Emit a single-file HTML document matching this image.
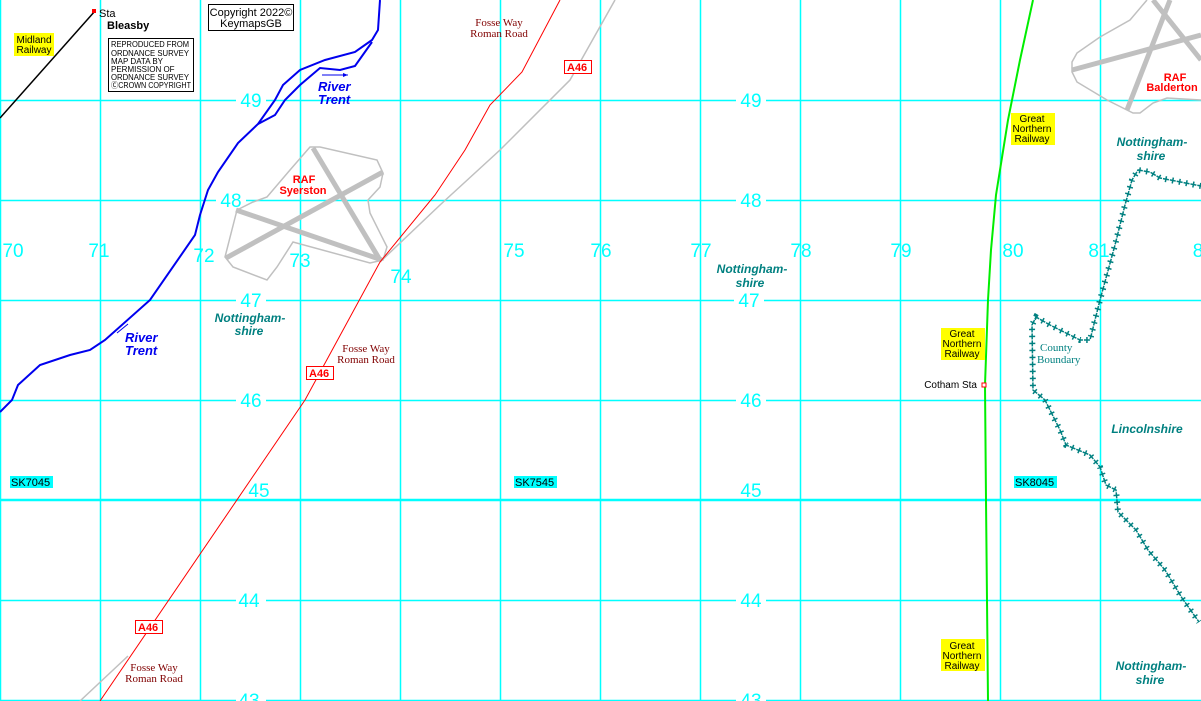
<!DOCTYPE html>
<html><head><meta charset="utf-8"><style>
html,body{margin:0;padding:0;background:#fff;}
svg{display:block;font-family:"Liberation Sans",sans-serif;}
.g{fill:#00ffff;font-size:19px;}
</style></head><body>
<svg width="1201" height="701" viewBox="0 0 1201 701" xmlns="http://www.w3.org/2000/svg">
<rect width="1201" height="701" fill="#fff"/>
<g stroke="#00ffff" stroke-width="1.5">
<line x1="0.5" y1="0" x2="0.5" y2="701"/>
<line x1="100.5" y1="0" x2="100.5" y2="701"/>
<line x1="200.5" y1="0" x2="200.5" y2="701"/>
<line x1="300.5" y1="0" x2="300.5" y2="701"/>
<line x1="400.5" y1="0" x2="400.5" y2="701"/>
<line x1="500.5" y1="0" x2="500.5" y2="701"/>
<line x1="600.5" y1="0" x2="600.5" y2="701"/>
<line x1="700.5" y1="0" x2="700.5" y2="701"/>
<line x1="800.5" y1="0" x2="800.5" y2="701"/>
<line x1="900.5" y1="0" x2="900.5" y2="701"/>
<line x1="1000.5" y1="0" x2="1000.5" y2="701"/>
<line x1="1100.5" y1="0" x2="1100.5" y2="701"/>
<line x1="0" y1="100.5" x2="1201" y2="100.5"/>
<line x1="0" y1="200.5" x2="1201" y2="200.5"/>
<line x1="0" y1="300.5" x2="1201" y2="300.5"/>
<line x1="0" y1="400.5" x2="1201" y2="400.5"/>
<line x1="0" y1="500" x2="1201" y2="500" stroke-width="2.5"/>
<line x1="0" y1="600.5" x2="1201" y2="600.5"/>
<line x1="0" y1="700.5" x2="1201" y2="700.5"/>
</g>
<g class="g" text-anchor="middle">
<g fill="#fff"><rect x="236" y="90" width="30" height="20"/><rect x="736" y="90" width="30" height="20"/><rect x="216" y="190" width="30" height="20"/><rect x="736" y="190" width="30" height="20"/><rect x="236" y="290" width="30" height="20"/><rect x="734" y="290" width="30" height="20"/><rect x="236" y="390" width="30" height="20"/><rect x="736" y="390" width="30" height="20"/><rect x="236" y="590" width="30" height="20"/><rect x="736" y="590" width="30" height="20"/><rect x="236" y="690" width="30" height="11"/><rect x="736" y="690" width="30" height="11"/></g>
<text x="251" y="107" class="g">49</text><text x="751" y="107" class="g">49</text>
<text x="231" y="207" class="g">48</text><text x="751" y="207" class="g">48</text>
<text x="251" y="307" class="g">47</text><text x="749" y="307" class="g">47</text>
<text x="251" y="407" class="g">46</text><text x="751" y="407" class="g">46</text>
<text x="259" y="497" class="g">45</text><text x="751" y="497" class="g">45</text>
<text x="249" y="607" class="g">44</text><text x="751" y="607" class="g">44</text>
<text x="249" y="707" class="g">43</text><text x="751" y="707" class="g">43</text>
<text x="13" y="257" class="g">70</text><text x="99" y="257" class="g">71</text>
<text x="204" y="262" class="g">72</text><text x="300" y="267" class="g">73</text>
<text x="401" y="283" class="g">74</text><text x="514" y="257" class="g">75</text>
<text x="601" y="257" class="g">76</text><text x="701" y="257" class="g">77</text>
<text x="801" y="257" class="g">78</text><text x="901" y="257" class="g">79</text>
<text x="1013" y="257" class="g">80</text><text x="1099" y="257" class="g">81</text>
<text x="1198" y="257" class="g">8</text>
</g>
<g font-size="11">
<rect x="10" y="476" width="43" height="12" fill="#00ffff"/><text x="11" y="486">SK7045</text>
<rect x="514" y="476" width="43" height="12" fill="#00ffff"/><text x="515" y="486">SK7545</text>
<rect x="1014" y="476" width="43" height="12" fill="#00ffff"/><text x="1015" y="486">SK8045</text>
</g>
<line x1="0" y1="118" x2="95" y2="11" stroke="#000" stroke-width="1.5"/>
<rect x="92" y="9" width="4" height="4" fill="red"/>
<text x="99" y="17" font-size="11">Sta</text>
<text x="107" y="29" font-size="11" font-weight="bold">Bleasby</text>
<rect x="14" y="33" width="40" height="23" fill="#ff0"/>
<text x="34" y="43" font-size="10" text-anchor="middle">Midland</text>
<text x="34" y="53" font-size="10" text-anchor="middle">Railway</text>
<rect x="108.5" y="38.5" width="85" height="53" fill="#fff" stroke="#000"/>
<g font-size="8"><text x="111" y="47" textLength="78" lengthAdjust="spacingAndGlyphs">REPRODUCED FROM</text><text x="111" y="56" textLength="78" lengthAdjust="spacingAndGlyphs">ORDNANCE SURVEY</text><text x="111" y="64">MAP DATA BY</text><text x="111" y="72">PERMISSION OF</text><text x="111" y="80" textLength="78" lengthAdjust="spacingAndGlyphs">ORDNANCE SURVEY</text><text x="111" y="88" textLength="80" lengthAdjust="spacingAndGlyphs">ⒸCROWN COPYRIGHT</text></g>
<rect x="208.5" y="4.5" width="85" height="26" fill="#fff" stroke="#000"/>
<text x="251" y="16" font-size="11" text-anchor="middle">Copyright 2022©</text>
<text x="251" y="27" font-size="11" text-anchor="middle">KeymapsGB</text>
<g fill="none" stroke="#0000ee" stroke-width="2">
<path d="M0,412 L12,400 L18,385 L40,365 L70,355 L90,350 L105,340 L150,300 L195,235 L200,215 L208,190 L218,172 L238,143 L258,124 L275,100 L283,85 L300,70 L325,60 L355,52 L372,40 L378,30 L380,0"/>
<path d="M258,124 L275,115 L285,100 L300,85 L320,68 L340,70 L355,66 L372,42"/>
</g>
<line x1="322" y1="75" x2="348" y2="75" stroke="#0000ee"/><path d="M348,75 l-5,-2 v4z" fill="#0000ee"/>
<line x1="117" y1="333" x2="128" y2="324" stroke="#0000ee"/>
<g fill="#0000ee" font-size="13" font-weight="bold" font-style="italic">
<text x="318" y="91">River</text><text x="318" y="104">Trent</text>
<text x="125" y="342">River</text><text x="125" y="355">Trent</text>
</g>
<g fill="none" stroke="#c0c0c0" stroke-width="1.5">
<path d="M237,210 L225,257 L233,267 L267,280 L277,267 L293,242 L370,263 L383,260 L387,247 L370,213 L368,200 L380,187 L383,173 L377,160 L320,147 L310,147 L290,170 L267,197 L253,202 Z"/>
<path d="M1147,0 L1130,20 L1100,37 L1077,53 L1072,62 L1072,72 L1077,82 L1107,100 L1133,113 L1140,113 L1153,103 L1167,98 L1201,100"/>
</g>
<g stroke="#c0c0c0" stroke-width="5">
<line x1="236" y1="210" x2="382" y2="260"/><line x1="226" y1="258" x2="383" y2="172"/><line x1="313" y1="148" x2="380" y2="260"/>
<line x1="1072" y1="70" x2="1201" y2="35"/><line x1="1127" y1="110" x2="1170" y2="0"/><line x1="1153" y1="0" x2="1201" y2="60"/>
</g>
<g fill="red" font-size="11" font-weight="bold" text-anchor="middle">
<text x="304" y="183">RAF</text><text x="303" y="194">Syerston</text>
<text x="1175" y="81">RAF</text><text x="1172" y="91">Balderton</text>
</g>
<path d="M80,701 L128,656 M380,262 L440,205 L500,150 L570,80 L615,0" fill="none" stroke="#c0c0c0" stroke-width="1.5"/>
<path d="M100,701 L305,400 L380,262 L435,195 L465,150 L490,105 L522,72 L560,0" fill="none" stroke="red" stroke-width="1"/>
<g font-family="Liberation Serif,serif" font-size="11" fill="#800000" text-anchor="middle">
<text x="499" y="26">Fosse Way</text><text x="499" y="37">Roman Road</text>
<text x="366" y="352">Fosse Way</text><text x="366" y="363">Roman Road</text>
<text x="154" y="671">Fosse Way</text><text x="154" y="682">Roman Road</text>
</g>
<g font-size="11" font-weight="bold" fill="red">
<rect x="564.5" y="60.5" width="27" height="13" fill="#fff" stroke="red"/><text x="567" y="71">A46</text>
<rect x="306.5" y="366.5" width="27" height="13" fill="#fff" stroke="red"/><text x="309" y="377">A46</text>
<rect x="135.5" y="620.5" width="27" height="13" fill="#fff" stroke="red"/><text x="138" y="631">A46</text>
</g>
<path d="M1033,0 L1020,60 L1008,120 L996,195 L991,250 L988,300 L985,385 L986,500 L988,701" fill="none" stroke="#00ee00" stroke-width="2"/>
<rect x="982" y="383" width="4" height="4" fill="#fff" stroke="red"/>
<text x="977" y="388" font-size="10" text-anchor="end">Cotham Sta</text>
<g fill="#ff0"><rect x="1011" y="113" width="44" height="32"/><rect x="941" y="328" width="44" height="32"/><rect x="941" y="639" width="44" height="32"/></g>
<g font-size="10" text-anchor="middle">
<text x="1032" y="122">Great</text><text x="1032" y="132">Northern</text><text x="1032" y="142">Railway</text>
<text x="962" y="337">Great</text><text x="962" y="347">Northern</text><text x="962" y="357">Railway</text>
<text x="962" y="649">Great</text><text x="962" y="659">Northern</text><text x="962" y="669">Railway</text>
</g>
<g fill="none" stroke="#008080">
<path id="cb" d="M1201,186 L1160,178 L1150,172 L1138,170 L1132,180 L1125,205 L1115,245 L1100,300 L1090,340 L1080,340 L1050,325 L1036,317 L1032,325 L1033,390 L1045,400 L1060,430 L1066,445 L1090,455 L1100,467 L1106,485 L1116,490 L1118,512 L1136,530 L1148,550 L1165,570 L1182,598 L1199,622" stroke-width="6" stroke-dasharray="1.5,5.5"/>
<path d="M1201,186 L1160,178 L1150,172 L1138,170 L1132,180 L1125,205 L1115,245 L1100,300 L1090,340 L1080,340 L1050,325 L1036,317 L1032,325 L1033,390 L1045,400 L1060,430 L1066,445 L1090,455 L1100,467 L1106,485 L1116,490 L1118,512 L1136,530 L1148,550 L1165,570 L1182,598 L1199,622" stroke-width="1.5" stroke-dasharray="6,1" stroke-dashoffset="2.25"/>
</g>
<g font-family="Liberation Serif,serif" font-size="11" fill="#008080"><text x="1040" y="351">County</text><text x="1037" y="363">Boundary</text></g>
<g fill="#008080" font-size="12" font-weight="bold" font-style="italic" text-anchor="middle">
<text x="250" y="322">Nottingham-</text><text x="249" y="335">shire</text>
<text x="752" y="273">Nottingham-</text><text x="750" y="287">shire</text>
<text x="1152" y="146">Nottingham-</text><text x="1151" y="160">shire</text>
<text x="1147" y="433">Lincolnshire</text>
<text x="1151" y="670">Nottingham-</text><text x="1150" y="684">shire</text>
</g>
</svg>
</body></html>
